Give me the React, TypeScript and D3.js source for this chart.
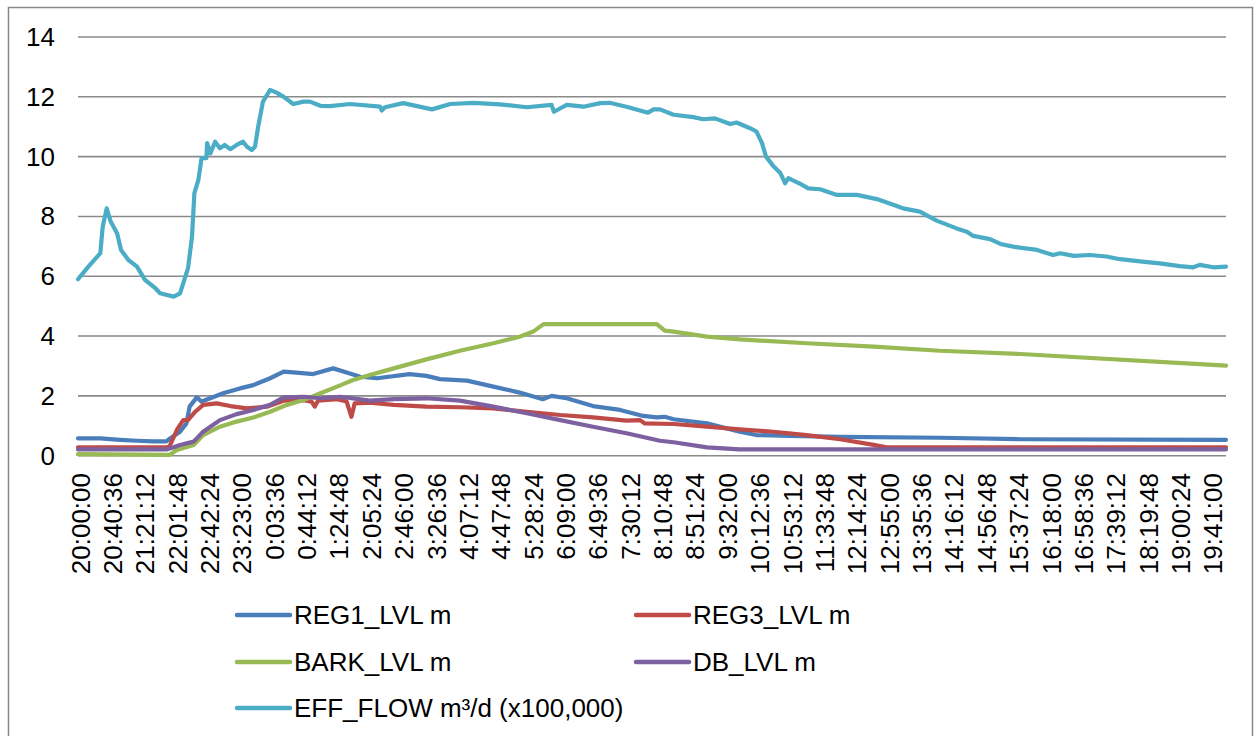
import React from "react";
import * as d3 from "d3";

// Minutes after 20:00:00, value
const reg1Lvl: [number, number][] = [
  [0, 0.58], [28, 0.58], [53, 0.53], [74, 0.5], [94, 0.48], [111, 0.48], [115, 0.57],
  [128, 0.8], [136, 1.08], [140, 1.64], [149, 1.95], [155, 1.81], [166, 1.92], [182, 2.09],
  [203, 2.25], [220, 2.36], [241, 2.59], [258, 2.81], [274, 2.78], [295, 2.73], [320, 2.92],
  [337, 2.78], [354, 2.64], [375, 2.59], [416, 2.73], [437, 2.67], [454, 2.56], [488, 2.51],
  [521, 2.31], [554, 2.11], [583, 1.89], [594, 2.0], [613, 1.92], [646, 1.66], [680, 1.53],
  [709, 1.33], [726, 1.28], [736, 1.3], [747, 1.22], [789, 1.08], [830, 0.8], [851, 0.69],
  [893, 0.66], [956, 0.63], [1081, 0.6], [1182, 0.55], [1440, 0.53],
];

const reg3Lvl: [number, number][] = [
  [0, 0.28], [111, 0.28], [115, 0.32], [124, 0.86], [132, 1.19], [138, 1.19], [147, 1.47],
  [157, 1.7], [174, 1.75], [191, 1.66], [212, 1.58], [237, 1.64], [258, 1.84], [283, 1.86],
  [293, 1.81], [297, 1.64], [301, 1.84], [325, 1.89], [337, 1.81], [343, 1.3], [347, 1.75],
  [366, 1.77], [396, 1.7], [437, 1.64], [479, 1.62], [521, 1.58], [563, 1.47], [605, 1.36],
  [646, 1.28], [688, 1.17], [705, 1.19], [711, 1.08], [747, 1.06], [789, 0.97], [830, 0.88],
  [872, 0.8], [914, 0.69], [956, 0.55], [998, 0.36], [1014, 0.28], [1440, 0.28],
];

const barkLvl: [number, number][] = [
  [0, 0.05], [115, 0.03], [124, 0.19], [145, 0.36], [157, 0.69], [178, 0.97], [199, 1.14],
  [220, 1.28], [241, 1.47], [262, 1.7], [283, 1.86], [304, 2.09], [325, 2.31], [345, 2.53],
  [366, 2.7], [396, 2.92], [437, 3.22], [479, 3.51], [521, 3.76], [554, 3.98], [571, 4.15],
  [584, 4.4], [605, 4.4], [726, 4.4], [736, 4.18], [747, 4.15], [789, 3.98], [830, 3.89],
  [914, 3.76], [998, 3.65], [1081, 3.51], [1182, 3.4], [1440, 3.01],
];

const dbLvl: [number, number][] = [
  [0, 0.21], [111, 0.21], [120, 0.28], [128, 0.36], [145, 0.47], [157, 0.8], [178, 1.19],
  [199, 1.39], [220, 1.53], [241, 1.7], [258, 1.95], [283, 1.97], [304, 1.92], [329, 1.97],
  [366, 1.84], [396, 1.89], [437, 1.92], [479, 1.84], [521, 1.64], [563, 1.42], [605, 1.19],
  [646, 0.97], [688, 0.75], [730, 0.5], [747, 0.45], [789, 0.28], [830, 0.21], [1440, 0.21],
];

const effFlow: [number, number][] = [
  [0, 5.9], [13, 6.32], [28, 6.77], [31, 7.66], [36, 8.27], [41, 7.83], [49, 7.44], [54, 6.88],
  [63, 6.55], [74, 6.32], [84, 5.88], [97, 5.6], [103, 5.43], [120, 5.32], [128, 5.43],
  [138, 6.27], [143, 7.32], [146, 8.78], [151, 9.22], [155, 9.95], [161, 9.95], [162, 10.45],
  [166, 10.11], [172, 10.5], [178, 10.28], [184, 10.39], [191, 10.25], [199, 10.39],
  [207, 10.5], [212, 10.33], [218, 10.22], [222, 10.33], [226, 11.0], [232, 11.84],
  [241, 12.23], [249, 12.14], [258, 12.0], [270, 11.76], [283, 11.84], [291, 11.84],
  [304, 11.7], [316, 11.69], [341, 11.76], [379, 11.67], [381, 11.54], [385, 11.65],
  [408, 11.79], [444, 11.58], [467, 11.76], [496, 11.8], [529, 11.75], [563, 11.65],
  [594, 11.73], [597, 11.5], [613, 11.73], [634, 11.67], [655, 11.79], [667, 11.8],
  [688, 11.67], [715, 11.47], [722, 11.58], [730, 11.58], [747, 11.4], [772, 11.32],
  [784, 11.25], [799, 11.28], [818, 11.09], [826, 11.14], [843, 10.95], [851, 10.84],
  [858, 10.45], [863, 10.0], [872, 9.69], [881, 9.45], [887, 9.11], [891, 9.28], [906, 9.09],
  [916, 8.94], [931, 8.91], [952, 8.72], [977, 8.72], [1002, 8.58], [1027, 8.35],
  [1035, 8.27], [1056, 8.16], [1077, 7.86], [1102, 7.6], [1115, 7.49], [1123, 7.35],
  [1144, 7.24], [1157, 7.08], [1173, 6.99], [1203, 6.88], [1223, 6.71], [1232, 6.77],
  [1249, 6.68], [1269, 6.71], [1290, 6.66], [1307, 6.57], [1332, 6.5], [1357, 6.43],
  [1382, 6.34], [1399, 6.3], [1407, 6.38], [1424, 6.3], [1440, 6.32],
];

const seriesNames = ["REG1_LVL m", "REG3_LVL m", "BARK_LVL m", "DB_LVL m", "EFF_FLOW m³/d (x100,000)"];
const seriesColors = ["#4A7EBB", "#BE4B48", "#98B954", "#7D60A0", "#4BACC6"];
const seriesData = [reg1Lvl, reg3Lvl, barkLvl, dbLvl, effFlow];

const yTicks = [0, 2, 4, 6, 8, 10, 12, 14];
const startSeconds = 20 * 3600;
const tickStepSeconds = 2436;
const tickCount = 36;

const FONT = "'Liberation Sans', Arial, sans-serif";

function fmtClock(secFromStart: number): string {
  const s = (startSeconds + secFromStart) % 86400;
  const h = Math.floor(s / 3600);
  const m = Math.floor((s % 3600) / 60);
  const ss = s % 60;
  return `${h}:${String(m).padStart(2, "0")}:${String(ss).padStart(2, "0")}`;
}

export default function App() {
  const W = 1255, H = 736;
  const left = 78, right = 1226, top = 37, bottom = 455.7;
  const x = d3.scaleLinear().domain([0, 1440]).range([left, right]);
  const y = d3.scaleLinear().domain([0, 14]).range([bottom, top]);
  const line = d3.line<[number, number]>().x((d) => x(d[0])).y((d) => y(d[1]));
  const xTicks = d3.range(tickCount).map((i) => i * tickStepSeconds);

  const legendPos = [
    [237, 615], [636, 615], [237, 662], [636, 662], [237, 708],
  ];

  return (
    <svg width={W} height={H} style={{ position: "absolute", left: 0, top: 0, background: "#fff" }}>
      <rect x={8.5} y={7.5} width={1244} height={740} fill="#fff" stroke="#888" strokeWidth={1.5} />
      {yTicks.map((t) => (
        <g key={t}>
          <line x1={left} x2={right} y1={y(t)} y2={y(t)} stroke="#8a8a8a" strokeWidth={1.6} />
          <text x={55} y={y(t)} textAnchor="end" dominantBaseline="central" fontFamily={FONT} fontSize={26} fill="#000">
            {t}
          </text>
        </g>
      ))}
      {xTicks.map((s) => (
        <text
          key={s}
          transform={`translate(${x(s / 60) + 2.5},473) rotate(-90)`}
          textAnchor="end"
          dominantBaseline="central"
          fontFamily={FONT}
          fontSize={26}
          fill="#000"
        >
          {fmtClock(s)}
        </text>
      ))}
      {seriesData.map((d, i) => (
        <path
          key={i}
          d={line(d) || ""}
          fill="none"
          stroke={seriesColors[i]}
          strokeWidth={4.2}
          strokeLinejoin="round"
          strokeLinecap="round"
        />
      ))}
      {seriesNames.map((n, i) => {
        const [lx, ly] = legendPos[i];
        return (
          <g key={n}>
            <line x1={lx} x2={lx + 53} y1={ly} y2={ly} stroke={seriesColors[i]} strokeWidth={4.5} strokeLinecap="round" />
            <text x={lx + 57} y={ly} dominantBaseline="central" fontFamily={FONT} fontSize={26} fill="#000">
              {n}
            </text>
          </g>
        );
      })}
    </svg>
  );
}
